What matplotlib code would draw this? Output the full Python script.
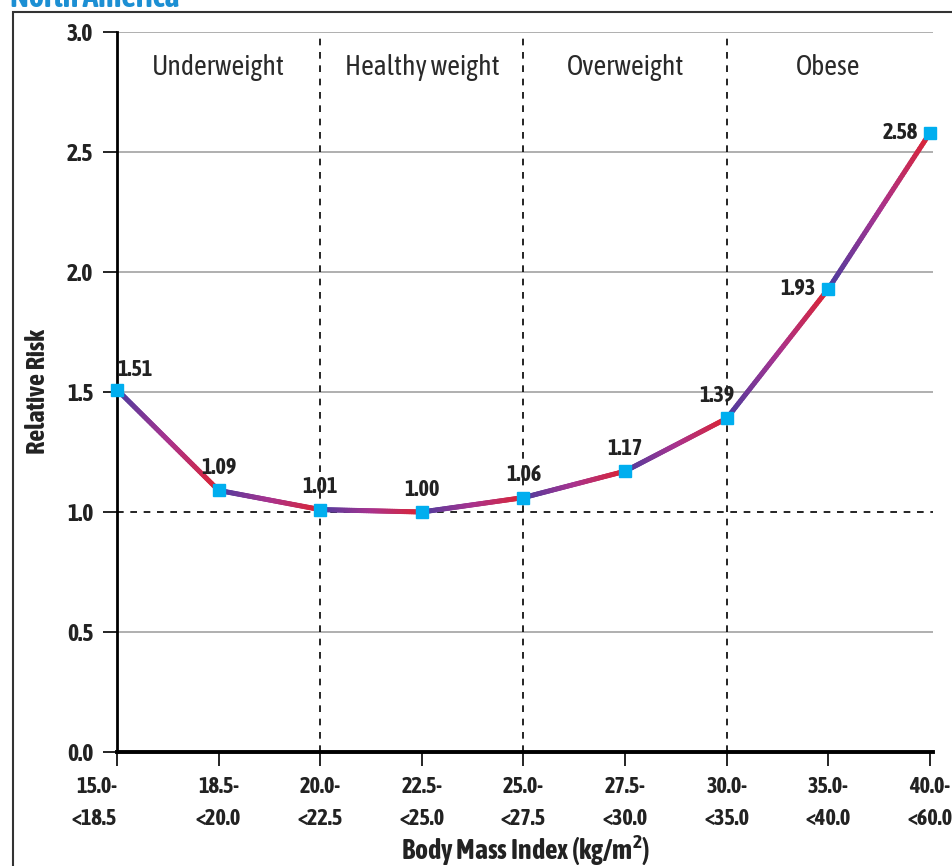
import numpy as np
import matplotlib
matplotlib.use("Agg")
import matplotlib.pyplot as plt
import matplotlib.patheffects as pe
from matplotlib import font_manager
from matplotlib.collections import LineCollection
from matplotlib.colors import LinearSegmentedColormap
from matplotlib.patches import Rectangle

# pick a condensed face; prefer one that has a bold weight
def _w(w):
    return w if isinstance(w, int) else font_manager.weight_dict.get(w, 400)

faces = {}
for f in font_manager.fontManager.ttflist:
    if 'Narrow' in f.name or 'Condensed' in f.name:
        faces.setdefault(f.name, set()).add(_w(f.weight))
with_bold = sorted(n for n, ws in faces.items() if max(ws) >= 600)
if with_bold:
    base, fake_bold = with_bold[0], False
elif faces:
    base, fake_bold = sorted(faces)[0], True
else:
    base, fake_bold = 'Liberation Sans', False
plt.rcParams['font.family'] = [base, 'DejaVu Sans']


def boldify(t, lw=0.9):
    t.set_fontweight('bold')
    if fake_bold:
        t.set_path_effects([pe.withStroke(linewidth=lw, foreground=t.get_color())])
    return t


# data
bmi_labels = ['15.0-\n<18.5', '18.5-\n<20.0', '20.0-\n<22.5', '22.5-\n<25.0', '25.0-\n<27.5',
              '27.5-\n<30.0', '30.0-\n<35.0', '35.0-\n<40.0', '40.0-\n<60.0']
risk = [1.51, 1.09, 1.01, 1.00, 1.06, 1.17, 1.39, 1.93, 2.58]
categories = ['Underweight', 'Healthy weight', 'Overweight', 'Obese']
boundaries = [2, 4, 6]          # index where a new weight class starts
cat_centers = [1, 3, 5, 7]

x = np.arange(len(risk))
y = np.array(risk)

fig = plt.figure(figsize=(9.53, 8.66), dpi=100)
ax = fig.add_axes([117 / 953, 1 - 752 / 866, (933 - 117) / 953, (752 - 32) / 866])

# outer frame + title (cropped at top like the source)
fig.patches.append(Rectangle((13 / 953, -0.2), 1.2, 1.2 - 12 / 866,
                             transform=fig.transFigure, fill=False,
                             edgecolor='#333333', lw=1.5))
boldify(fig.text(10 / 953, 1 - 7 / 866, 'North America', color='#1c8fd3', fontsize=23,
                 ha='left', va='baseline'), lw=1.4)

ax.set_xlim(0, 8 + 3 / 101.5)
ax.set_ylim(0, 3.0)

# gridlines
for g in [0.5, 1.5, 2.0, 2.5, 3.0]:
    ax.axhline(g, color='#9a9a9a', lw=1.1, zorder=1)
ax.axhline(1.0, color='black', lw=1.2, ls=(0, (4, 4)), zorder=1)
for b in boundaries:
    ax.axvline(b, color='black', lw=1.2, ls=(0, (4, 4)), zorder=1)

for c, name in zip(cat_centers, categories):
    ax.text(c, 2.85, name, ha='center', va='center', fontsize=20, color='#2a2a2a')

# gradient line, purple -> red on each segment
cmap = LinearSegmentedColormap.from_list('pr', ['#4b3c9e', '#a8338f', '#dc2432'])
for i in range(len(x) - 1):
    t = np.linspace(0, 1, 60)
    xs = x[i] + (x[i + 1] - x[i]) * t
    ys = y[i] + (y[i + 1] - y[i]) * t
    pts = np.column_stack([xs, ys]).reshape(-1, 1, 2)
    segs = np.concatenate([pts[:-1], pts[1:]], axis=1)
    lc = LineCollection(segs, cmap=cmap, linewidths=3.6, capstyle='round', zorder=3)
    lc.set_array(t[:-1])
    lc.set_clim(0, 1)
    ax.add_collection(lc)

ax.plot(x, y, ls='none', marker='s', ms=8.5, color='#00aeef', zorder=5, clip_on=False)

# value labels
lab_kw = dict(fontsize=16, color='#222222')
for i, v in enumerate(risk):
    txt = f'{v:.2f}'
    if i == 0:
        a = ax.annotate(txt, (x[i], v), xytext=(0, 6), textcoords='offset points',
                        ha='left', va='bottom', **lab_kw)
    elif i >= 7:
        a = ax.annotate(txt, (x[i], v), xytext=(-9, 0), textcoords='offset points',
                        ha='right', va='center', **lab_kw)
    elif i == 6:
        a = ax.annotate(txt, (x[i], v), xytext=(-7, 8), textcoords='offset points',
                        ha='center', va='bottom', **lab_kw)
    else:
        a = ax.annotate(txt, (x[i], v), xytext=(0, 8), textcoords='offset points',
                        ha='center', va='bottom', **lab_kw)
    boldify(a)

# axes styling
for s in ['top', 'right']:
    ax.spines[s].set_visible(False)
ax.spines['left'].set_linewidth(2)
ax.spines['bottom'].set_linewidth(2.8)
ax.set_yticks([0, 0.5, 1.0, 1.5, 2.0, 2.5, 3.0])
ax.set_yticklabels(['0.0', '0.5', '1.0', '1.5', '2.0', '2.5', '3.0'])
ax.set_xticks(x)
ax.set_xticklabels(bmi_labels, linespacing=1.6)
ax.tick_params(axis='y', length=10, width=1.2, pad=7, labelsize=17)
ax.tick_params(axis='x', length=10, width=1.2, pad=7, labelsize=16)
for lbl in ax.get_xticklabels() + ax.get_yticklabels():
    lbl.set_color('#222222')
    boldify(lbl)
ax.get_xticklabels()[0].set_ha('right')

yl = ax.set_ylabel('Relative Risk', fontsize=19, labelpad=12, color='#222222')
xl = ax.set_xlabel('Body Mass Index (kg/m$^\\mathregular{2}$)', fontsize=20, labelpad=2,
                   color='#222222')
boldify(yl, 1.1)
boldify(xl, 1.1)

fig.savefig('out.png', dpi=100)
